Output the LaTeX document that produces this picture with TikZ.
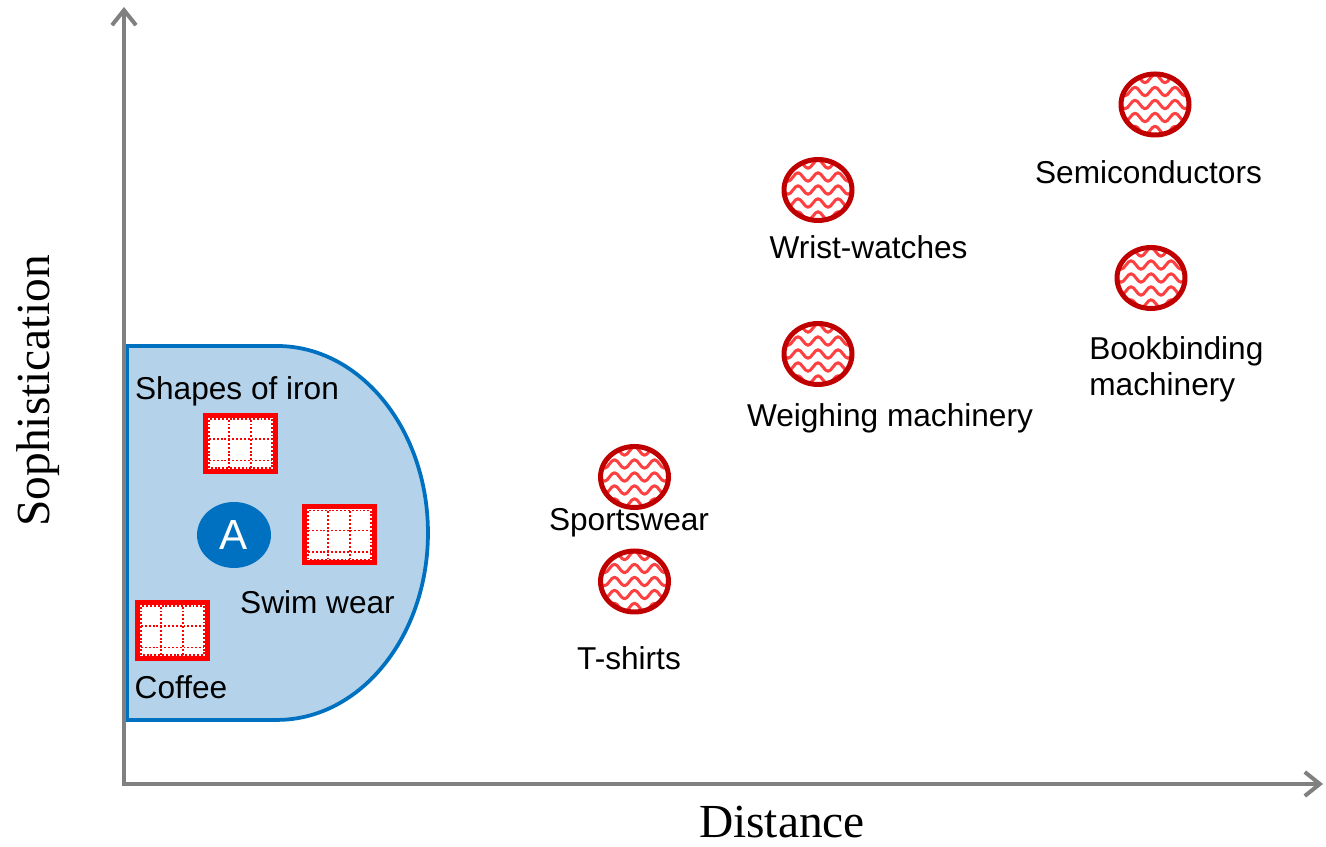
\documentclass[tikz,border=0pt]{standalone}
\usepackage{fontspec}
\setmainfont{Liberation Serif}
\newfontfamily\sansfont{Liberation Sans}
\usepackage{tikz}
\usetikzlibrary{positioning,arrows.meta,shapes.geometric}

\definecolor{axisgray}{RGB}{128,128,128}
\definecolor{zonefill}{RGB}{180,211,235}
\definecolor{zoneline}{RGB}{0,112,192}
\definecolor{markred}{RGB}{192,0,0}

\begin{document}
\begin{tikzpicture}[
    x=0.02cm, y=0.02cm,
    >={Straight Barb[length=0.3cm,width=0.48cm]},
    axisline/.style={draw=axisgray, line width=0.08cm},
    axlbl/.style={font=\fontsize{27}{32}\selectfont, inner sep=0pt},
    lbl/.style={font=\sansfont\fontsize{18}{19}\selectfont, inner sep=0pt, text height=13pt, text depth=4pt},
    zone/.style={draw=zoneline, fill=zonefill, line width=0.075cm},
    gridline/.style={draw=red, line width=1pt, dash pattern=on 1.1pt off 1.1pt},
    wavemark/.style={ellipse, draw=markred, fill=white, line width=0.1cm, inner sep=0pt,
      minimum width=1.36cm, minimum height=1.22cm,
      path picture={
        \foreach \wy in {-0.52,-0.26,0,0.26,0.52}
          \draw[red!75, line width=1.7pt, line join=round]
            ([shift={(-0.9cm,\wy cm)}]path picture bounding box.center)
            \foreach \p in {1,...,5}{ sin ++(0.1cm,0.085cm) cos ++(0.1cm,-0.085cm)
                                      sin ++(0.1cm,-0.085cm) cos ++(0.1cm,0.085cm)};
      }},
    tablemark/.style={rectangle, draw=red, fill=white, line width=0.1cm, inner sep=0pt,
      minimum width=1.4cm, minimum height=1.12cm,
      path picture={
        \draw[gridline] ([shift={(-0.63cm,-0.49cm)}]path picture bounding box.center)
          rectangle ([shift={(0.63cm,0.49cm)}]path picture bounding box.center);
        \foreach \gx in {-0.23,0.21}
          \draw[gridline] ([shift={(\gx cm,-0.49cm)}]path picture bounding box.center) -- ++(0pt,0.98cm);
        \foreach \gy in {0.09,-0.34}
          \draw[gridline] ([shift={(-0.63cm,\gy cm)}]path picture bounding box.center) -- ++(1.26cm,0pt);
      }},
    hubmark/.style={ellipse, fill=zoneline, text=white, inner sep=0pt,
      minimum width=1.48cm, minimum height=1.32cm, font=\sansfont\fontsize{24}{28}\selectfont}
  ]
    \useasboundingbox (0,0) rectangle (1326,847);

    \draw[zone] (127,501) -- (277,501)
      arc[start angle=90, end angle=-90, x radius=3.02cm, y radius=3.74cm]
      -- (127,127) -- cycle;

    \coordinate (org) at (124,63);
    \coordinate (ytip) at (124,840);
    \coordinate (xtip) at (1323,63);
    \draw[axisline, <->] (ytip) -- (org) -- (xtip);
    \node[axlbl, anchor=base] (xlbl) at (782,9) {Distance};
    \node[axlbl, anchor=base, rotate=90] (ylbl) at (50,456) {Sophistication};

    \node[tablemark] (iron) at (240.5,403.5) {};
    \node[tablemark] (swim) at (339.5,312) {};
    \node[tablemark] (coffee) at (172.5,216.5) {};
    \node[hubmark] (hub) at (234,312) {A};
    \node[lbl, above=0.13cm of iron, xshift=-0.07cm] (ironT) {Shapes of iron};
    \node[lbl, below=0.5cm of swim, xshift=-0.44cm] (swimT) {Swim wear};
    \node[lbl, below=0.29cm of coffee, xshift=0.17cm] (coffeeT) {Coffee};

    \node[wavemark] (sports) at (634.5,370) {};
    \node[wavemark] (tshirt) at (634.5,265.5) {};
    \node[wavemark] (weigh) at (818,493) {};
    \node[wavemark] (wrist) at (818,657) {};
    \node[wavemark] (book) at (1151,569) {};
    \node[wavemark] (semi) at (1155,742.5) {};
    \node[lbl, below=-0.06cm of sports, xshift=-0.11cm] (sportsT) {Sportswear};
    \node[lbl, below=0.64cm of tshirt, xshift=-0.11cm] (tshirtT) {T-shirts};
    \node[lbl, below=0.33cm of weigh, xshift=1.44cm] (weighT) {Weighing machinery};
    \node[lbl, below=0.25cm of wrist, xshift=1.01cm] (wristT) {Wrist-watches};
    \node[lbl, below=0.46cm of semi, xshift=-0.13cm] (semiT) {Semiconductors};
    \node[lbl, align=left, font=\sansfont\fontsize{18}{20.5}\selectfont, text height=, text depth=,
      anchor=north west] (bookT) at ([shift={(-1.24cm,-0.51cm)}]book.south) {Bookbinding\\machinery};
  \end{tikzpicture}
\end{document}
